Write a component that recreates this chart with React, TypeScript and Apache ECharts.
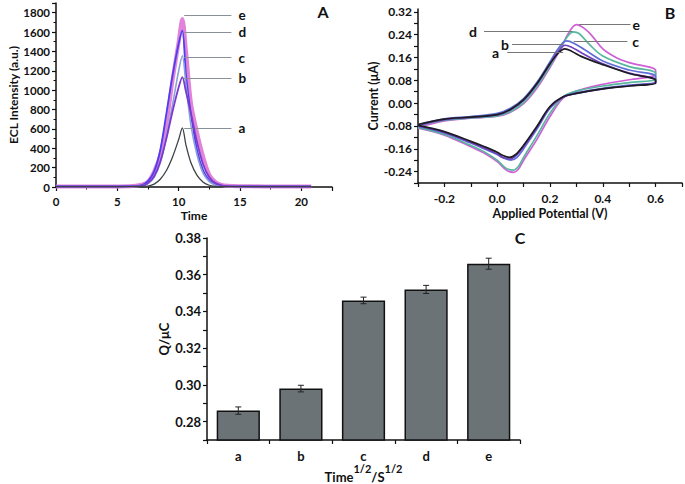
import React, { useEffect, useRef } from "react";
import * as echarts from "echarts";

const FONT = "Lato, 'Open Sans', sans-serif";

// ---------- Panel A: ECL intensity vs time ----------
const eclTime = [0, 2, 4, 6, 7, 7.5, 8, 8.5, 9, 9.5, 10, 10.3, 10.6, 11, 11.5, 12, 12.5, 13, 13.5, 14, 15, 17, 19, 20.8];
const eclA = [4, 4, 4, 4, 5, 10, 30, 80, 170, 310, 490, 610, 430, 250, 120, 50, 18, 7, 4, 4, 4, 4, 4, 4];
const eclB = [5, 5, 5, 6, 12, 40, 110, 260, 500, 780, 1030, 1135, 980, 760, 460, 230, 100, 40, 18, 10, 6, 5, 5, 5];
const eclC = [5, 5, 5, 6, 12, 35, 100, 250, 520, 850, 1200, 1355, 1050, 640, 330, 140, 55, 20, 10, 6, 5, 5, 5, 5];
const eclD = [6, 6, 6, 8, 20, 60, 160, 380, 760, 1150, 1480, 1615, 1150, 750, 380, 170, 70, 25, 12, 8, 6, 6, 6, 6];
const eclE = [6, 6, 6, 8, 25, 55, 160, 330, 650, 1100, 1500, 1735, 1400, 870, 560, 310, 125, 50, 22, 12, 8, 6, 6, 6];
const curveLetters = ["a", "b", "c", "d", "e"];
const eclPeakLevels = [607, 1121, 1337, 1598, 1775];

// ---------- Panel B: cyclic voltammograms ----------
const cvA = [
  [-0.3, -0.075], [-0.2, -0.056], [-0.1, -0.049], [0, -0.04], [0.05, -0.022], [0.1, 0.012], [0.15, 0.068], [0.2, 0.138], [0.23, 0.174], [0.256, 0.19], [0.28, 0.183], [0.32, 0.163], [0.4, 0.135], [0.5, 0.104], [0.6, 0.08],
  [0.6, 0.07], [0.5, 0.06], [0.4, 0.05], [0.3, 0.034], [0.25, 0.022], [0.2, -0.012], [0.15, -0.082], [0.1, -0.148], [0.07, -0.18], [0.046, -0.19], [0.02, -0.183], [0, -0.172], [-0.05, -0.152], [-0.1, -0.134], [-0.2, -0.1], [-0.3, -0.078],
];
const cvB = [
  [-0.3, -0.078], [-0.2, -0.058], [-0.1, -0.05], [0, -0.041], [0.05, -0.024], [0.1, 0.01], [0.15, 0.066], [0.2, 0.138], [0.23, 0.18], [0.258, 0.203], [0.28, 0.197], [0.32, 0.176], [0.4, 0.138], [0.5, 0.105], [0.6, 0.082],
  [0.6, 0.072], [0.5, 0.061], [0.4, 0.05], [0.3, 0.034], [0.25, 0.021], [0.2, -0.015], [0.15, -0.086], [0.1, -0.152], [0.07, -0.185], [0.048, -0.196], [0.02, -0.19], [0, -0.178], [-0.05, -0.157], [-0.1, -0.138], [-0.2, -0.103], [-0.3, -0.08],
];
const cvC = [
  [-0.3, -0.076], [-0.2, -0.055], [-0.1, -0.047], [0, -0.036], [0.05, -0.018], [0.1, 0.016], [0.15, 0.072], [0.2, 0.145], [0.23, 0.19], [0.263, 0.218], [0.29, 0.21], [0.33, 0.188], [0.4, 0.148], [0.5, 0.116], [0.6, 0.094],
  [0.6, 0.075], [0.5, 0.063], [0.4, 0.052], [0.3, 0.036], [0.25, 0.022], [0.2, -0.018], [0.15, -0.092], [0.1, -0.16], [0.075, -0.19], [0.052, -0.2], [0.025, -0.193], [0, -0.18], [-0.05, -0.16], [-0.1, -0.14], [-0.2, -0.105], [-0.3, -0.082],
];
const cvD = [
  [-0.3, -0.08], [-0.2, -0.06], [-0.1, -0.052], [0, -0.045], [0.05, -0.03], [0.1, 0.002], [0.15, 0.058], [0.2, 0.13], [0.24, 0.195], [0.27, 0.238], [0.288, 0.25], [0.31, 0.244], [0.35, 0.205], [0.4, 0.165], [0.5, 0.128], [0.6, 0.105],
  [0.6, 0.085], [0.5, 0.072], [0.4, 0.06], [0.3, 0.042], [0.25, 0.022], [0.2, -0.035], [0.15, -0.115], [0.1, -0.19], [0.08, -0.222], [0.06, -0.235], [0.03, -0.226], [0, -0.2], [-0.05, -0.17], [-0.1, -0.148], [-0.2, -0.11], [-0.3, -0.085],
];
const cvE = [
  [-0.3, -0.085], [-0.2, -0.062], [-0.1, -0.053], [0, -0.046], [0.05, -0.032], [0.1, -0.002], [0.15, 0.052], [0.2, 0.125], [0.24, 0.19], [0.27, 0.245], [0.3, 0.275], [0.33, 0.262], [0.36, 0.235], [0.4, 0.19], [0.45, 0.16], [0.5, 0.142], [0.6, 0.115],
  [0.6, 0.1], [0.5, 0.082], [0.4, 0.066], [0.3, 0.042], [0.25, 0.018], [0.2, -0.047], [0.15, -0.128], [0.1, -0.2], [0.08, -0.232], [0.062, -0.243], [0.035, -0.235], [0, -0.205], [-0.05, -0.175], [-0.1, -0.153], [-0.2, -0.112], [-0.3, -0.088],
];
// arrow annotations: level, start E, end E
const cvArrowLevels = [0.178, 0.205, 0.217, 0.252, 0.275];
const cvArrowFrom = [0.25, 0.25, 0.29, 0.285, 0.31];
const cvArrowTo = [0.038, 0.056, 0.493, -0.05, 0.505];
const cvLabelGap = [8, 3, 5, 7, 2];

// ---------- Panel C: bar chart ----------
const barCats = ["a", "b", "c", "d", "e"];
const barValues = [0.286, 0.298, 0.346, 0.352, 0.366];
const barErrors = [0.002, 0.0018, 0.0018, 0.0022, 0.003];

const eclColors = ["#3c4248", "#7a3ad0", "#8ca0d8", "#4b3ff0", "#e183d8"];
const eclWidths = [1.3, 1.8, 1.6, 1.8, 4];
const cvColors = ["#1c1c22", "#7040c0", "#5f6fd6", "#56b79c", "#cf5fd6"];

const axisLineStyle = { show: true, onZero: false, lineStyle: { color: "#111", width: 1.5 } };
const tickStyle = { show: true, inside: false, length: 4, lineStyle: { color: "#111", width: 1.2 } };
const labelBase = { color: "#111", fontWeight: "bold", fontFamily: FONT };
const nameBase = { color: "#111", fontWeight: "bold", fontFamily: FONT };

export default function App() {
  const ref = useRef<HTMLDivElement>(null);
  useEffect(() => {
    if (!ref.current) return;
    const chart = echarts.init(ref.current, null, { renderer: "svg" });
    const eclSets = [eclA, eclB, eclC, eclD, eclE];
    const cvSets = [cvA, cvB, cvC, cvD, cvE];

    const eclSeries = [4, 3, 2, 1, 0].map((i) => ({
      type: "line",
      xAxisIndex: 0,
      yAxisIndex: 0,
      data: eclTime.map((t, j) => [t, eclSets[i][j]]),
      showSymbol: false,
      smooth: 0.3,
      lineStyle: { color: eclColors[i], width: eclWidths[i] },
      z: 2 + (4 - i),
      markLine: {
        silent: true,
        symbol: ["none", "circle"],
        symbolSize: [0, 4],
        lineStyle: { color: "#8a9098", width: 1, type: "solid" },
        itemStyle: { color: "#333" },
        label: { show: true, position: "end", formatter: curveLetters[i], distance: 7, fontSize: 13.5, lineHeight: 12, ...labelBase },
        data: [[{ coord: [10.45, eclPeakLevels[i]] }, { coord: [14.3, eclPeakLevels[i]] }]],
      },
    }));

    const cvSeries = [4, 3, 2, 1, 0].map((i) => ({
      type: "line",
      xAxisIndex: 1,
      yAxisIndex: 1,
      data: cvSets[i],
      showSymbol: false,
      smooth: 0.35,
      lineStyle: { color: cvColors[i], width: 1.7 },
      markLine: {
        silent: true,
        symbol: ["none", "arrow"],
        symbolSize: [0, 7],
        lineStyle: { color: "#777", width: 1.2, type: "solid" },
        itemStyle: { color: "#444" },
        label: { show: true, position: "end", formatter: curveLetters[i], distance: cvLabelGap[i], fontSize: 14, lineHeight: 12, ...labelBase },
        data: [[{ coord: [cvArrowFrom[i], cvArrowLevels[i]] }, { coord: [cvArrowTo[i], cvArrowLevels[i]] }]],
      },
    }));

    const option = {
      animation: false,
      backgroundColor: "#fff",
      grid: [
        { left: 56, top: 3, width: 276, height: 184 },
        { left: 418, top: 9, width: 264, height: 174 },
        { left: 207, top: 238, width: 313, height: 204 },
      ],
      xAxis: [
        {
          gridIndex: 0, type: "value", min: 0, max: 22.5, interval: 5,
          axisLine: axisLineStyle, axisTick: tickStyle, splitLine: { show: false },
          minorTick: { show: true, splitNumber: 2, length: 2.5, lineStyle: { color: "#111" } },
          axisLabel: { ...labelBase, fontSize: 11.5, margin: 8, showMaxLabel: false, formatter: (v: number) => String(v) },
          name: "Time", nameLocation: "middle", nameGap: 22, nameTextStyle: { ...nameBase, fontSize: 12 },
        },
        {
          gridIndex: 1, type: "value", min: -0.3, max: 0.7, interval: 0.1,
          axisLine: axisLineStyle, axisTick: tickStyle, splitLine: { show: false },
          axisLabel: {
            ...labelBase, fontSize: 12, margin: 9,
            formatter: (v: number) => { const k = Math.round(v * 10); return k % 2 === 0 ? (k / 10).toFixed(1) : ""; },
          },
          name: "Applied Potential (V)", nameLocation: "middle", nameGap: 24, nameTextStyle: { ...nameBase, fontSize: 12.5 },
        },
        {
          gridIndex: 2, type: "category", data: barCats,
          axisLine: axisLineStyle, axisTick: tickStyle, splitLine: { show: false },
          axisLabel: { ...labelBase, fontSize: 13, margin: 9 },
          name: "{a|Time}{s|1/2}{a|/S}{s|1/2}", nameLocation: "middle", nameGap: 23,
          nameTextStyle: {
            ...nameBase,
            rich: {
              a: { fontSize: 13, fontWeight: "bold", fontFamily: FONT, color: "#111", lineHeight: 20, verticalAlign: "bottom" },
              s: { fontSize: 11, fontWeight: "bold", fontFamily: FONT, color: "#111", lineHeight: 20, verticalAlign: "top" },
            },
          },
        },
      ],
      yAxis: [
        {
          gridIndex: 0, type: "value", min: 0, max: 1900, interval: 200,
          axisLine: axisLineStyle, axisTick: tickStyle, splitLine: { show: false },
          minorTick: { show: true, splitNumber: 2, length: 2.5, lineStyle: { color: "#111" } },
          axisLabel: { ...labelBase, fontSize: 11.5, margin: 6, showMaxLabel: false, formatter: (v: number) => String(v) },
          name: "ECL Intensity (a.u.)", nameLocation: "middle", nameGap: 36, nameTextStyle: { ...nameBase, fontSize: 12 },
        },
        {
          gridIndex: 1, type: "value", min: -0.28, max: 0.33, interval: 0.04,
          axisLine: axisLineStyle, axisTick: tickStyle, splitLine: { show: false },
          axisLabel: {
            ...labelBase, fontSize: 12, margin: 6, showMaxLabel: false,
            formatter: (v: number) => { const k = Math.round(v / 0.04); return k % 2 === 0 ? (k * 0.04).toFixed(2) : ""; },
          },
          name: "Current (μA)", nameLocation: "middle", nameGap: 37, nameTextStyle: { ...nameBase, fontSize: 12.5 },
        },
        {
          gridIndex: 2, type: "value", min: 0.27, max: 0.38, interval: 0.01,
          axisLine: axisLineStyle, axisTick: tickStyle, splitLine: { show: false },
          axisLabel: {
            ...labelBase, fontSize: 13, margin: 6,
            formatter: (v: number) => { const k = Math.round(v * 100); return k % 2 === 0 ? (k / 100).toFixed(2) : ""; },
          },
          name: "Q/μC", nameLocation: "middle", nameGap: 37, nameTextStyle: { ...nameBase, fontSize: 13 },
        },
      ],
      series: [
        ...eclSeries,
        ...cvSeries,
        {
          type: "bar",
          xAxisIndex: 2,
          yAxisIndex: 2,
          data: barValues,
          barWidth: "69%",
          itemStyle: { color: "#6c7377", borderColor: "#111", borderWidth: 1.5 },
        },
        {
          type: "custom",
          xAxisIndex: 2,
          yAxisIndex: 2,
          data: barValues.map((v, i) => [i, v - barErrors[i], v + barErrors[i]]),
          renderItem: (params: any, api: any) => {
            const lo = api.coord([api.value(0), api.value(1)]);
            const hi = api.coord([api.value(0), api.value(2)]);
            const w = 3;
            const st = { stroke: "#222", lineWidth: 1 };
            return {
              type: "group",
              children: [
                { type: "line", shape: { x1: lo[0], y1: lo[1], x2: hi[0], y2: hi[1] }, style: st },
                { type: "line", shape: { x1: lo[0] - w, y1: lo[1], x2: lo[0] + w, y2: lo[1] }, style: st },
                { type: "line", shape: { x1: hi[0] - w, y1: hi[1], x2: hi[0] + w, y2: hi[1] }, style: st },
              ],
            };
          },
          z: 5,
        },
      ],
      graphic: [
        { type: "text", x: 323, y: 11, style: { text: "A", fill: "#111", font: `bold 16px ${FONT}`, align: "center", verticalAlign: "middle" } },
        { type: "text", x: 670, y: 12, style: { text: "B", fill: "#111", font: `bold 16px ${FONT}`, align: "center", verticalAlign: "middle" } },
        { type: "text", x: 520, y: 237, style: { text: "C", fill: "#111", font: `bold 16px ${FONT}`, align: "center", verticalAlign: "middle" } },
      ],
    };
    chart.setOption(option as any);
    return () => chart.dispose();
  }, []);
  return <div ref={ref} style={{ position: "fixed", left: 0, top: 0, width: 685, height: 484, background: "#fff" }} />;
}
